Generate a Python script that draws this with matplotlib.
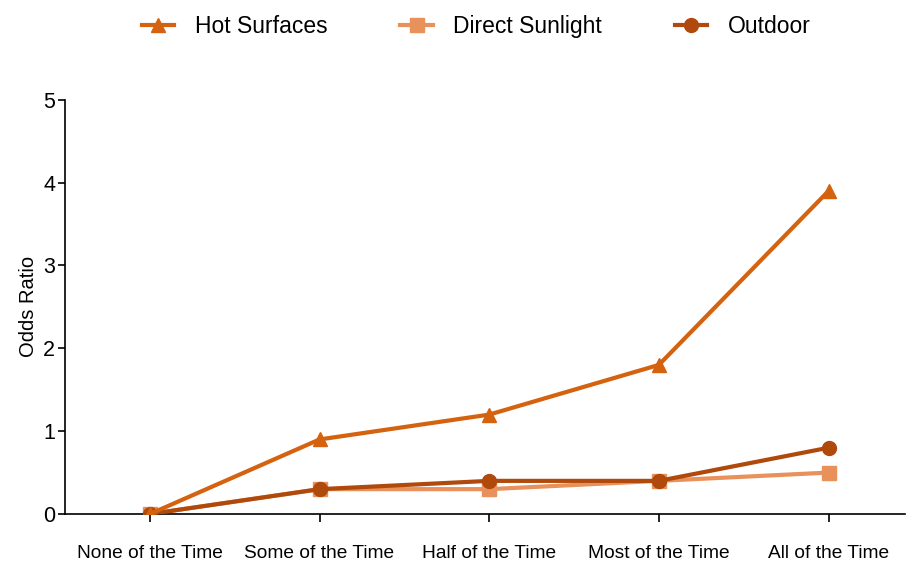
import matplotlib
matplotlib.use('Agg')
import matplotlib.pyplot as plt
import numpy as np

plt.rcParams['font.family'] = ['Liberation Sans', 'DejaVu Sans']

categories = ['None of the Time', 'Some of the Time', 'Half of the Time',
              'Most of the Time', 'All of the Time']
hot_surfaces = [0, 0.9, 1.2, 1.8, 3.9]
direct_sunlight = [0, 0.3, 0.3, 0.4, 0.5]
outdoor = [0, 0.3, 0.4, 0.4, 0.8]

x = np.arange(len(categories))

fig = plt.figure(figsize=(9.09, 5.62), dpi=100)
ax = fig.add_axes([0.0715, 0.0854, 0.924, 0.737])

ax.plot(x, direct_sunlight, color='#E8915A', lw=3, marker='s', ms=10,
        label='Direct Sunlight', zorder=2)
ax.plot(x, outdoor, color='#B0490C', lw=3, marker='o', ms=10,
        label='Outdoor', zorder=3)
ax.plot(x, hot_surfaces, color='#D4620F', lw=3, marker='^', ms=10,
        label='Hot Surfaces', zorder=4)

ax.set_xlim(-0.5, 4.45)
ax.set_ylim(0, 5)
ax.set_xticks(x)
ax.set_xticklabels(categories, fontsize=13.8)
ax.set_yticks(range(6))
ax.tick_params(axis='y', labelsize=15.5, length=5, width=1.2, pad=2)
ax.tick_params(axis='x', length=6, width=1.2, pad=16)
ax.set_ylabel('Odds Ratio', fontsize=14.5, labelpad=4)

for s in ['top', 'right']:
    ax.spines[s].set_visible(False)
for s in ['left', 'bottom']:
    ax.spines[s].set_linewidth(1.2)

handles, labels = ax.get_legend_handles_labels()
order = [2, 0, 1]
fig.legend([handles[i] for i in order], [labels[i] for i in order],
           loc='upper center', bbox_to_anchor=(0.524, 1.01), ncol=3,
           frameon=False, fontsize=16.5, handlelength=1.4, columnspacing=3.2,
           handletextpad=0.9)

fig.savefig('out.png', dpi=100)
